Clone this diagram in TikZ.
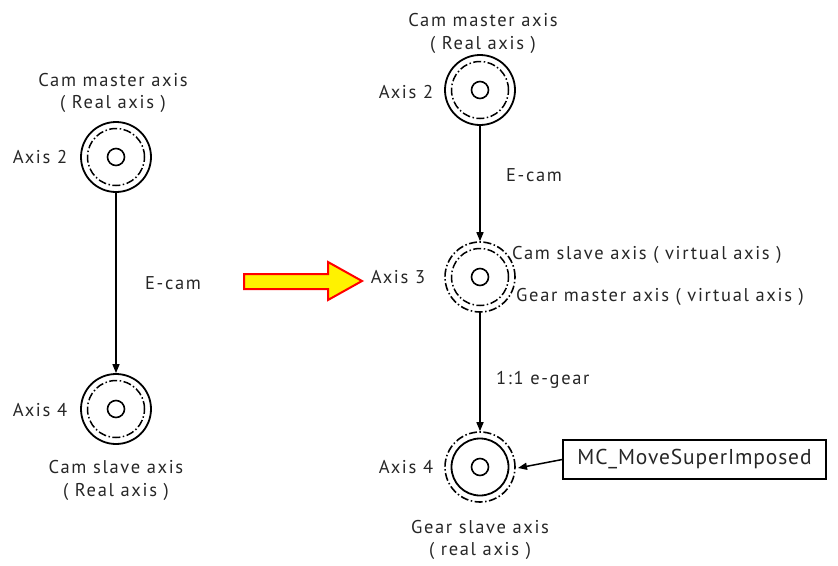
\documentclass[tikz,border=0pt]{standalone}
\usepackage{fontspec}
\setmainfont{PT Sans}[LetterSpace=9]
\newfontfamily\boxfont{PT Sans}[LetterSpace=4]
\usetikzlibrary{arrows.meta}
\begin{document}
\begin{tikzpicture}[x=1pt,y=-1pt,
  lbl/.style={font=\fontsize{18.5}{22}\selectfont, inner sep=1pt, text=black!85},
  dd/.style={dash pattern=on 8pt off 2.5pt on 1.5pt off 2.5pt},
  ring/.style={circle, inner sep=0pt, minimum size=70pt, line width=1.8pt},
  ringd/.style={circle, inner sep=0pt, minimum size=57pt, line width=1.5pt},
  hub/.style={circle, draw, inner sep=0pt, minimum size=17pt, line width=1.6pt},
  conn/.style={-{Triangle[length=9pt,width=7pt]}, line width=1.5pt}]
\useasboundingbox (0,0) rectangle (838,565);
% left axes
\node[ring, draw] (L2) at (116,157) {};
\node[ringd, draw, dd] (L2i) at (116,157) {};
\node[hub] (L2h) at (116,157) {};
\node[ring, draw] (L4) at (116,409) {};
\node[ringd, draw, dd] (L4i) at (116,409) {};
\node[hub] (L4h) at (116,409) {};
% right axes
\node[ring, draw] (R2) at (480,90) {};
\node[ringd, draw, dd] (R2i) at (480,90) {};
\node[hub] (R2h) at (480,90) {};
\node[ring, draw, dd, line width=1.6pt] (R3) at (480,277) {};
\node[ringd, draw, dd] (R3i) at (480,277) {};
\node[hub] (R3h) at (480,277) {};
\node[ring, draw, dd, line width=1.6pt] (R4) at (480,467) {};
\node[ringd, draw, line width=1.8pt] (R4i) at (480,467) {};
\node[hub] (R4h) at (480,467) {};
% connectors
\draw[conn] (L2.south) -- (L4.north);
\draw[conn] (R2.south) -- (R3.north);
\draw[conn] (R3.south) -- (R4.north);
% labels left
\node[lbl] (t1) at (113,80) {Cam master axis};
\node[lbl] (t2) at (113,104) {( Real axis )};
\node[lbl] (t3) at (40,157) {Axis 2};
\node[lbl] (t4) at (173,283) {E-cam};
\node[lbl] (t5) at (40,410) {Axis 4};
\node[lbl] (t6) at (116,467) {Cam slave axis};
\node[lbl] (t7) at (116,492) {( Real axis )};
% labels right
\node[lbl] (u1) at (483,20) {Cam master axis};
\node[lbl] (u2) at (483,45) {( Real axis )};
\node[lbl] (u3) at (406,92) {Axis 2};
\node[lbl] (u4) at (534,175) {E-cam};
\node[lbl] (u5) at (398,277) {Axis 3};
\node[lbl, anchor=west] (u6) at (511,255) {Cam slave axis ( virtual axis )};
\node[lbl, anchor=west] (u7) at (515,297) {Gear master axis ( virtual axis )};
\node[lbl, anchor=west] (u8) at (495,380) {1:1 e-gear};
\node[lbl] (u9) at (406,467) {Axis 4};
\node[lbl] (u10) at (480,527) {Gear slave axis};
\node[lbl] (u11) at (480,551) {( real axis )};
% box
\node[draw, line width=1.4pt, minimum width=263pt, minimum height=39pt, inner sep=0pt,
  font=\boxfont\fontsize{21.5}{24}\selectfont, text=black!85] (mc) at (694.5,459.5) {MC\_MoveSuperImposed};
\coordinate (mctip) at (518,468);
\draw[conn] (mc.west) -- (mctip);
% big arrow
\draw[draw=red, fill=yellow, line width=2pt, line join=miter]
  (244,274) -- (328,274) -- (328,262) -- (362,281) -- (328,300) -- (328,289) -- (244,289) -- cycle;
\end{tikzpicture}
\end{document}
